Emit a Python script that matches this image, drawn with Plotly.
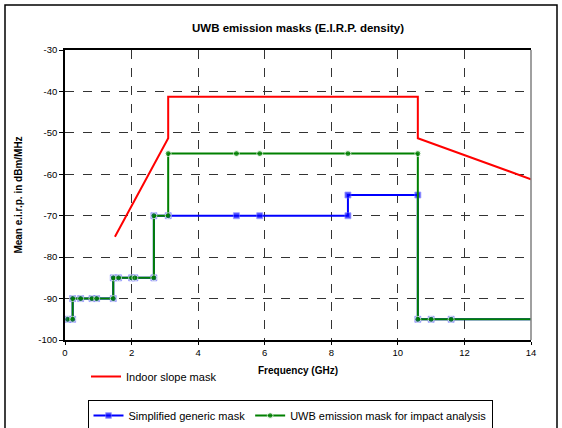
import plotly.graph_objects as go

# ---- data ----
freq_steps = [0.08, 0.23, 0.23, 0.47, 0.81, 0.95, 1.45, 1.45, 1.61, 2.0, 2.1, 2.67, 2.67,
              3.1, 5.15, 5.85, 8.5, 8.5, 10.6, 10.6, 11.0, 11.6, 14.0]
generic_mask = [-95, -95, -90, -90, -90, -90, -90, -85, -85, -85, -85, -85, -70,
                -70, -70, -70, -70, -65, -65, -95, -95, -95, -95]

freq_impact = [0.08, 0.23, 0.23, 0.47, 0.81, 0.95, 1.45, 1.45, 1.61, 2.0, 2.1, 2.67, 2.67,
               3.1, 3.1, 5.15, 5.85, 8.5, 10.6, 10.6, 11.0, 11.6, 14.0]
impact_mask = [-95, -95, -90, -90, -90, -90, -90, -85, -85, -85, -85, -85, -70,
               -70, -55, -55, -55, -55, -55, -95, -95, -95, -95]

freq_indoor = [1.5, 3.1, 3.1, 10.6, 10.6, 14.0]
indoor_mask = [-75.1, -51.3, -41.3, -41.3, -51.3, -61.2]

x_ticks = [0, 2, 4, 6, 8, 10, 12, 14]
y_ticks = [-30, -40, -50, -60, -70, -80, -90, -100]

FONT = "Liberation Sans, Arial, sans-serif"

fig = go.Figure()

fig.add_trace(go.Scatter(
    x=freq_indoor, y=indoor_mask, mode="lines", name="Indoor slope mask",
    line=dict(color="#FF0000", width=2), legend="legend2"))

blue_sizes = [6] * (len(freq_steps) - 1) + [0]
fig.add_trace(go.Scatter(
    x=freq_steps, y=generic_mask, mode="lines+markers", name="Simplified generic mask",
    line=dict(color="#0000FF", width=2),
    marker=dict(symbol="square", size=blue_sizes, color="#0000FF",
                line=dict(width=1, color="rgba(120,120,255,0.8)")),
    legend="legend"))

green_sizes = [6] * (len(freq_impact) - 1) + [0]
fig.add_trace(go.Scatter(
    x=freq_impact, y=impact_mask, mode="lines+markers",
    name="UWB emission mask for impact analysis",
    line=dict(color="#008000", width=2),
    marker=dict(symbol="circle", size=green_sizes, color="#008000"),
    legend="legend"))

fig.update_layout(
    width=562, height=428,
    margin=dict(l=65, r=31, t=50, b=88, autoexpand=False),
    paper_bgcolor="white", plot_bgcolor="white",
    font=dict(family=FONT, size=10, color="black"),
    title=dict(text="<b>UWB emission masks (E.I.R.P. density)</b>",
               x=(65 + 233) / 562, xanchor="center", y=1 - 28 / 428, yanchor="middle",
               font=dict(size=11.5, family=FONT, color="black")),
    xaxis=dict(range=[0, 14], tickvals=x_ticks, ticktext=[str(v) for v in x_ticks],
               showgrid=True, gridcolor="#333333", griddash="dash", gridwidth=1,
               showline=True, linecolor="black", linewidth=1.5, mirror=True,
               ticks="outside", ticklen=3, tickcolor="black",
               tickfont=dict(size=9.5, family=FONT, color="black"),
               zeroline=False, automargin=False,
               title=dict(text="<b>Frequency (GHz)</b>", standoff=10,
                          font=dict(size=10, family=FONT, color="black"))),
    yaxis=dict(range=[-100, -30], tickvals=y_ticks, ticktext=[str(v) for v in y_ticks],
               showgrid=True, gridcolor="#333333", griddash="dash", gridwidth=1,
               showline=True, linecolor="black", linewidth=1.5,
               ticks="outside", ticklen=4, tickcolor="black",
               tickfont=dict(size=9.5, family=FONT, color="black"),
               zeroline=False, automargin=False,
               title=dict(text="<b>Mean e.i.r.p. in dBm/MHz</b>", standoff=14,
                          font=dict(size=10, family=FONT, color="black"))),
    legend=dict(orientation="h", x=(290 - 65) / 466, xanchor="center",
                y=(340 - 400) / 290, yanchor="top",
                bordercolor="black", borderwidth=1, bgcolor="white",
                font=dict(size=11, family=FONT, color="black"),
                itemwidth=30, tracegroupgap=0),
    legend2=dict(orientation="h", x=(86 - 65) / 466, xanchor="left",
                 y=(340 - 362) / 290, yanchor="top",
                 borderwidth=0, bgcolor="rgba(0,0,0,0)",
                 font=dict(size=11, family=FONT, color="black"),
                 itemwidth=30),
    showlegend=True,
)

# right border of plot area (grey) and outer chart frame
fig.add_shape(type="line", xref="paper", yref="paper", x0=1, x1=1, y0=0, y1=1,
              line=dict(color="#808080", width=1.5))
fig.add_shape(type="rect", xref="paper", yref="paper",
              x0=(5 - 65) / 466, x1=(557 - 65) / 466,
              y0=(340 - 432) / 290, y1=(340 - 5) / 290,
              line=dict(color="black", width=1.5), fillcolor="rgba(0,0,0,0)", layer="below")

fig.write_html("out.html",
               config={"displayModeBar": False},
               post_script="document.body.style.margin='0';document.body.style.overflow='hidden';")
